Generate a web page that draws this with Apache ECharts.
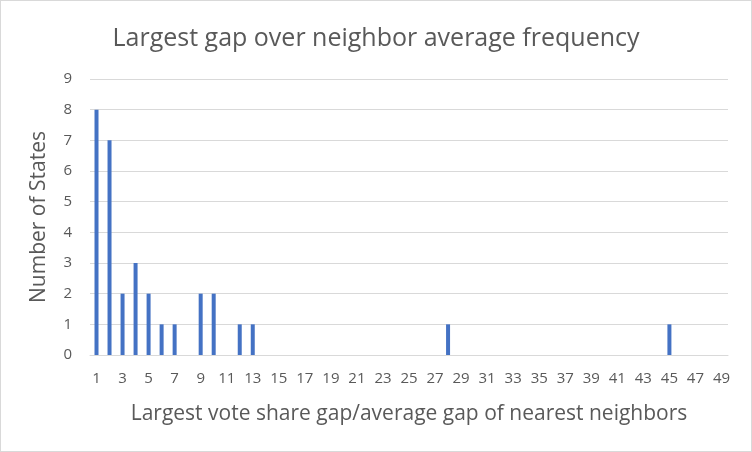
<!DOCTYPE html>
<html><head><meta charset="utf-8">
<script src="https://cdn.jsdelivr.net/npm/echarts@6/dist/echarts.min.js"></script>
<style>html,body{margin:0;padding:0;background:#fff}#c{width:750px;height:450px;border:1px solid #d9d9d9}</style>
</head><body><div id="c"></div>
<script>
const categories = Array.from({length:49},(_,i)=>String(i+1));
const counts = [8,7,2,3,2,1,1,0,2,2,0,1,1,0,0,0,0,0,0,0,0,0,0,0,0,0,0,1,0,0,0,0,0,0,0,0,0,0,0,0,0,0,0,0,1,0,0,0,0];
const yTicks = [0,1,2,3,4,5,6,7,8,9];
const chart = echarts.init(document.getElementById('c'));
const font = 'Open Sans';
chart.setOption({
  animation:false,
  title:{text:'Largest gap over neighbor average frequency',left:'center',top:20,
    textStyle:{fontFamily:font,fontSize:25,fontWeight:'normal',color:'#595959'}},
  grid:{left:89,right:23,top:78,bottom:96},
  xAxis:{type:'category',data:categories,
    name:'Largest vote share gap/average gap of nearest neighbors',nameLocation:'middle',nameGap:49,
    nameTextStyle:{fontFamily:font,fontSize:21,color:'#595959'},
    axisLine:{lineStyle:{color:'#d9d9d9'}},axisTick:{show:false},
    axisLabel:{interval:1,fontFamily:font,fontSize:15,color:'#595959',margin:16}},
  yAxis:{type:'value',min:0,max:9,interval:1,
    name:'Number of States',nameLocation:'middle',nameGap:40,
    nameTextStyle:{fontFamily:font,fontSize:21,color:'#595959'},
    axisLabel:{fontFamily:font,fontSize:15,color:'#595959',margin:18},
    splitLine:{lineStyle:{color:'#d9d9d9'}},axisLine:{show:false},axisTick:{show:false}},
  series:[{type:'bar',data:counts,barWidth:4,itemStyle:{color:'#4472c4'}}]
});
</script></body></html>
